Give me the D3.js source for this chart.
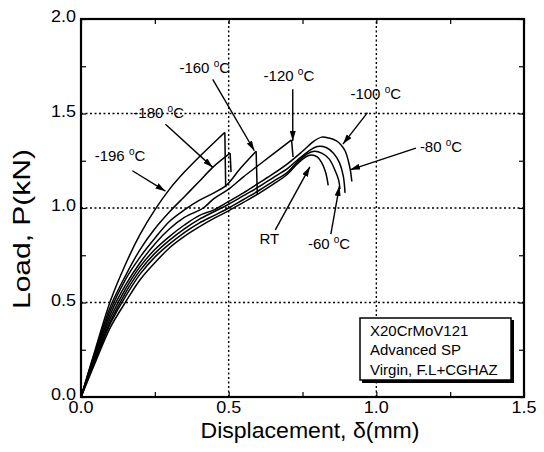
<!DOCTYPE html>
<html><head><meta charset="utf-8">
<script src="https://cdn.jsdelivr.net/npm/d3@7"></script>
<style>body{margin:0;background:#fff}svg{display:block}</style>
</head><body><svg id="chart" width="544" height="452"></svg>
<script>
// ---- data ----
const xTicks = [0, 0.5, 1.0, 1.5];
const yTicks = [0, 0.5, 1.0, 1.5, 2.0];
const xMinor = [0.25, 0.75, 1.25];
const yMinor = [0.25, 0.75, 1.25, 1.75];
const xGrid = [0.5, 1.0];
const yGrid = [0.5, 1.0, 1.5];

// load-displacement curves [displacement (mm), load (kN)]
const cm196 = [[0,0],[0.05,0.26],[0.1,0.51],[0.15,0.70],[0.2,0.86],[0.25,0.99],[0.3,1.10],[0.35,1.19],[0.4,1.27],[0.45,1.345],[0.487,1.40]];
const dm196 = [[0.487,1.40],[0.490,1.11]];
const cm180 = [[0,0],[0.05,0.25],[0.1,0.48],[0.15,0.64],[0.2,0.78],[0.25,0.89],[0.3,0.98],[0.35,1.06],[0.4,1.14],[0.446,1.215],[0.505,1.29]];
const dm180 = [[0.505,1.29],[0.508,1.19]];
const cm160 = [[0,0],[0.05,0.24],[0.1,0.46],[0.15,0.62],[0.2,0.74],[0.25,0.84],[0.3,0.93],[0.35,0.99],[0.4,1.04],[0.45,1.08],[0.492,1.12],[0.54,1.21],[0.593,1.30]];
const dm160 = [[0.593,1.30],[0.597,1.07]];
const cm120 = [[0,0],[0.05,0.23],[0.1,0.44],[0.15,0.59],[0.2,0.71],[0.25,0.81],[0.3,0.89],[0.35,0.95],[0.414,1.0],[0.45,1.05],[0.5,1.10],[0.55,1.165],[0.6,1.225],[0.65,1.285],[0.713,1.36]];
const dm120 = [[0.713,1.36],[0.718,1.27]];
const cm100 = [[0,0],[0.05,0.22],[0.1,0.42],[0.15,0.57],[0.2,0.69],[0.25,0.78],[0.3,0.85],[0.35,0.91],[0.4,0.96],[0.45,0.99],[0.5,1.035],[0.55,1.08],[0.6,1.13],[0.65,1.18],[0.7,1.235],[0.75,1.30],[0.79,1.355],[0.815,1.375],[0.84,1.37],[0.865,1.355],[0.88,1.335],[0.895,1.30],[0.905,1.25],[0.912,1.20],[0.917,1.14]];
const cm80 = [[0,0],[0.05,0.21],[0.1,0.40],[0.15,0.55],[0.2,0.67],[0.25,0.76],[0.3,0.83],[0.35,0.89],[0.4,0.94],[0.45,0.98],[0.5,1.02],[0.55,1.065],[0.6,1.11],[0.65,1.16],[0.7,1.21],[0.73,1.25],[0.77,1.30],[0.80,1.325],[0.83,1.32],[0.855,1.29],[0.875,1.24],[0.888,1.17],[0.894,1.08]];
const cm60 = [[0,0],[0.05,0.20],[0.1,0.39],[0.15,0.53],[0.2,0.65],[0.25,0.74],[0.3,0.81],[0.35,0.87],[0.4,0.92],[0.45,0.96],[0.5,1.0],[0.55,1.045],[0.6,1.09],[0.65,1.14],[0.7,1.19],[0.73,1.24],[0.765,1.285],[0.79,1.30],[0.815,1.29],[0.84,1.26],[0.86,1.20],[0.872,1.15],[0.877,1.10]];
const cmRT = [[0,0],[0.05,0.19],[0.1,0.37],[0.15,0.50],[0.2,0.62],[0.25,0.71],[0.3,0.79],[0.35,0.85],[0.4,0.90],[0.45,0.945],[0.5,0.985],[0.55,1.03],[0.6,1.075],[0.65,1.125],[0.7,1.18],[0.73,1.23],[0.76,1.27],[0.78,1.28],[0.80,1.27],[0.815,1.24],[0.828,1.19],[0.837,1.12]];

const curves = [cm196, cm180, cm160, cm120, cm100, cm80, cm60, cmRT];
const drops = [dm196, dm180, dm160, dm120];

// annotations: label text, label anchor [disp, load], arrow from, arrow to
const annLabels = ["-196 ", "-180 ", "-160 ", "-120 ", "-100 ", "-80 ", "-60 ", "RT"];
const annDeg    = [true, true, true, true, true, true, true, false];
const annPos    = [[0.132,1.276],[0.263,1.505],[0.419,1.742],[0.704,1.698],[0.998,1.602],[1.219,1.321],[0.840,0.812],[0.638,0.838]];
const annFrom   = [[0.174,1.197],[0.286,1.443],[0.446,1.681],[0.717,1.628],[0.970,1.505],[1.134,1.317],[0.846,0.862],[0.658,0.884]];
const annTo     = [[0.286,1.089],[0.446,1.215],[0.587,1.303],[0.717,1.355],[0.887,1.338],[0.911,1.202],[0.875,1.116],[0.775,1.218]];

const legendLines = ["X20CrMoV121", "Advanced SP", "Virgin, F.L+CGHAZ"];
const xTitle = "Displacement, \u03B4(mm)";
const yTitle = "Load, P(kN)";

// ---- drawing ----
const svg = d3.select("#chart");
const font = "Arial, 'Liberation Sans', Helvetica, sans-serif";
const x = d3.scaleLinear().domain([0, 1.5]).range([81, 524]);
const y = d3.scaleLinear().domain([0, 2]).range([397, 19]);

// grid
svg.append("g").selectAll("line").data(xGrid).join("line")
  .attr("x1", d => x(d)).attr("x2", d => x(d)).attr("y1", y(0)).attr("y2", y(2))
  .attr("stroke", "#000").attr("stroke-width", 1.4).attr("stroke-dasharray", "2,2.5");
svg.append("g").selectAll("line").data(yGrid).join("line")
  .attr("y1", d => y(d)).attr("y2", d => y(d)).attr("x1", x(0)).attr("x2", x(1.5))
  .attr("stroke", "#000").attr("stroke-width", 1.4).attr("stroke-dasharray", "2,2.5");

// axes (inward ticks)
const tk = 5;
const axB = svg.append("g").attr("transform", `translate(0,${y(0)})`)
  .call(d3.axisBottom(x).tickValues(xTicks.concat(xMinor)).tickSize(-tk).tickFormat(""));
const axT = svg.append("g").attr("transform", `translate(0,${y(2)})`)
  .call(d3.axisTop(x).tickValues(xTicks.concat(xMinor)).tickSize(-tk).tickFormat(""));
const axL = svg.append("g").attr("transform", `translate(${x(0)},0)`)
  .call(d3.axisLeft(y).tickValues(yTicks.concat(yMinor)).tickSize(-tk).tickFormat(""));
const axR = svg.append("g").attr("transform", `translate(${x(1.5)},0)`)
  .call(d3.axisRight(y).tickValues(yTicks.concat(yMinor)).tickSize(-tk).tickFormat(""));
[axB, axT, axL, axR].forEach(a => {
  a.select(".domain").remove();
  a.selectAll("line").attr("stroke", "#000").attr("stroke-width", 1.2);
});
svg.append("rect").attr("x", x(0)).attr("y", y(2)).attr("width", x(1.5) - x(0)).attr("height", y(0) - y(2))
  .attr("fill", "none").attr("stroke", "#000").attr("stroke-width", 2.2);

// tick labels
svg.append("g").selectAll("text").data(xTicks).join("text")
  .attr("x", d => x(d)).attr("y", y(0) + 15.5).attr("text-anchor", "middle")
  .attr("font-family", font).attr("font-size", 17).attr("textLength", 25)
  .attr("lengthAdjust", "spacingAndGlyphs").text(d => d.toFixed(1));
svg.append("g").selectAll("text").data(yTicks).join("text")
  .attr("x", x(0) - 5).attr("y", d => y(d) + 3).attr("text-anchor", "end")
  .attr("font-family", font).attr("font-size", 17).attr("textLength", 25)
  .attr("lengthAdjust", "spacingAndGlyphs").text(d => d.toFixed(1));

// axis titles
svg.append("text").attr("x", 310).attr("y", 438).attr("text-anchor", "middle")
  .attr("font-family", font).attr("font-size", 22).attr("textLength", 219)
  .attr("lengthAdjust", "spacingAndGlyphs").text(xTitle);
svg.append("text").attr("transform", `translate(30,229) rotate(-90)`).attr("text-anchor", "middle")
  .attr("font-family", font).attr("font-size", 24).attr("textLength", 160)
  .attr("lengthAdjust", "spacingAndGlyphs").text(yTitle);

// curves
const line = d3.line().x(d => x(d[0])).y(d => y(d[1])).curve(d3.curveCatmullRom.alpha(0.5));
const straight = d3.line().x(d => x(d[0])).y(d => y(d[1]));
svg.append("g").selectAll("path").data(curves).join("path")
  .attr("d", line).attr("fill", "none").attr("stroke", "#000").attr("stroke-width", 1.5);
svg.append("g").selectAll("path").data(drops).join("path")
  .attr("d", straight).attr("fill", "none").attr("stroke", "#000").attr("stroke-width", 1.5);

// arrows
svg.append("defs").append("marker").attr("id", "ah").attr("viewBox", "0 0 10 6")
  .attr("refX", 10).attr("refY", 3).attr("markerWidth", 10).attr("markerHeight", 6)
  .attr("markerUnits", "userSpaceOnUse").attr("orient", "auto")
  .append("path").attr("d", "M0,0L10,3L0,6Z").attr("fill", "#000");
svg.append("g").selectAll("line").data(annFrom).join("line")
  .attr("x1", d => x(d[0])).attr("y1", d => y(d[1]))
  .attr("x2", (d, i) => x(annTo[i][0])).attr("y2", (d, i) => y(annTo[i][1]))
  .attr("stroke", "#000").attr("stroke-width", 1.4).attr("marker-end", "url(#ah)");

// labels
const lab = svg.append("g").selectAll("text").data(annLabels).join("text")
  .attr("x", (d, i) => x(annPos[i][0])).attr("y", (d, i) => y(annPos[i][1]) + 5)
  .attr("text-anchor", "middle").attr("font-family", font).attr("font-size", 15);
lab.each(function(d, i) {
  const t = d3.select(this);
  t.append("tspan").text(d);
  if (annDeg[i]) {
    t.append("tspan").attr("font-size", 10).attr("dy", -6).text("o");
    t.append("tspan").attr("dy", 6).text("C");
  }
});

// legend box
const lg = svg.append("g");
lg.append("rect").attr("x", 362).attr("y", 320).attr("width", 152).attr("height", 63)
  .attr("fill", "#000");
lg.append("rect").attr("x", 360).attr("y", 318).attr("width", 151).attr("height", 62)
  .attr("fill", "#fff").attr("stroke", "#000").attr("stroke-width", 1.5);
lg.selectAll("text").data(legendLines).join("text")
  .attr("x", 370).attr("y", (d, i) => 335.5 + i * 19.5)
  .attr("font-family", font).attr("font-size", 15).text(d => d);
</script></body></html>
